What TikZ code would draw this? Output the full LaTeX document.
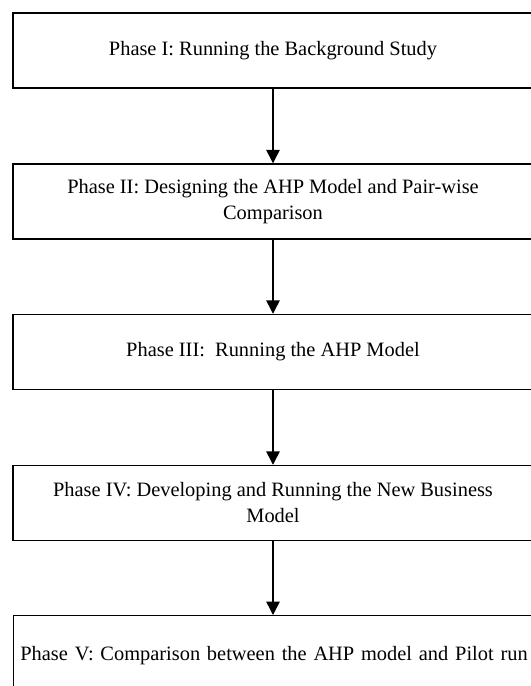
\documentclass[tikz,border=0pt]{standalone}
\usepackage{fontspec}
\setmainfont{Liberation Serif}
\usetikzlibrary{arrows.meta}

\begin{document}
\begin{tikzpicture}[x=0.75pt,y=-0.75pt]
    \tikzset{phaseBox/.style = {shape=rectangle,draw,line width=1.1pt,minimum width=390pt,minimum height=56.25pt,align=center,font=\fontsize{15.3}{19.5}\selectfont}}
    \tikzset{phaseArrow/.style = {-{Triangle[width=10pt,length=10pt]},line width=1.1pt,black}}

    \clip (0,0) rectangle (531,686);

    \node[phaseBox] (phaseI) at (273,50.5) {Phase I: Running the Background Study};
    \node[phaseBox] (phaseII) at (273,201.5) {Phase II: Designing the AHP Model and Pair-wise\\Comparison};
    \node[phaseBox] (phaseIII) at (273,352) {Phase III:\ \ Running the AHP Model};
    \node[phaseBox] (phaseIV) at (273,503) {Phase IV: Developing and Running the New Business\\Model};
    \node[phaseBox,anchor=north west,minimum height=60pt,text width=420pt,align=left,inner xsep=5pt] (phaseV) at (13,615) {Phase V: Comparison between the AHP model and Pilot run};

    %Flechas entre fases
    \draw [phaseArrow] (phaseI) -- (phaseII);
    \draw [phaseArrow] (phaseII) -- (phaseIII);
    \draw [phaseArrow] (phaseIII) -- (phaseIV);
    \draw [phaseArrow] (phaseIV.south) -- (phaseIV.south |- phaseV.north);

\end{tikzpicture}
\end{document}
